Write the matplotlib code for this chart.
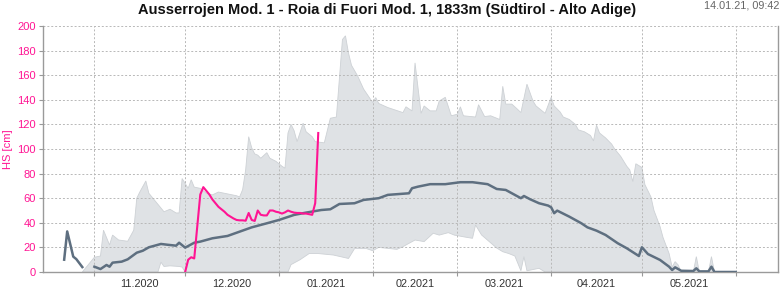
import numpy as np
import pandas as pd
import matplotlib
matplotlib.use("Agg")
import matplotlib.pyplot as plt
import matplotlib.dates as mdates
from matplotlib.ticker import FixedLocator, NullFormatter, FixedFormatter

plt.rcParams['font.family'] = ['Liberation Sans', 'DejaVu Sans']

# ---------------- data ----------------
title = "Ausserrojen Mod. 1 - Roia di Fuori Mod. 1, 1833m (Südtirol - Alto Adige)"
timestamp = "14.01.21, 09:42"
y_label = "HS [cm]"
x_tick_labels = ["11.2020", "12.2020", "01.2021", "02.2021", "03.2021", "04.2021", "05.2021"]
y_ticks = [0, 20, 40, 60, 80, 100, 120, 140, 160, 180, 200]

# mean snow depth (climatology)
mean_dates = ["2020-10-22", "2020-10-23", "2020-10-25", "2020-10-26", "2020-10-28", "2020-10-30",
              "2020-11-01", "2020-11-03", "2020-11-05", "2020-11-06", "2020-11-07", "2020-11-10",
              "2020-11-12", "2020-11-15", "2020-11-17", "2020-11-19", "2020-11-23", "2020-11-25",
              "2020-11-28", "2020-11-29", "2020-12-01", "2020-12-04", "2020-12-06", "2020-12-10",
              "2020-12-15", "2020-12-19", "2020-12-23", "2020-12-28", "2021-01-01", "2021-01-06",
              "2021-01-10", "2021-01-15", "2021-01-18", "2021-01-21", "2021-01-26", "2021-01-29",
              "2021-02-03", "2021-02-06", "2021-02-13", "2021-02-14", "2021-02-16", "2021-02-20",
              "2021-02-25", "2021-03-02", "2021-03-06", "2021-03-11", "2021-03-14", "2021-03-17",
              "2021-03-22", "2021-03-23", "2021-03-25", "2021-03-28", "2021-03-31", "2021-04-01",
              "2021-04-02", "2021-04-03", "2021-04-07", "2021-04-11", "2021-04-13", "2021-04-16",
              "2021-04-19", "2021-04-23", "2021-04-26", "2021-04-30", "2021-05-01", "2021-05-03",
              "2021-05-07", "2021-05-10", "2021-05-11", "2021-05-12", "2021-05-14", "2021-05-18",
              "2021-05-19", "2021-05-20", "2021-05-23", "2021-05-24", "2021-05-25", "2021-06-01"]
mean_hs = [10, 33, 12.5, 10.5, 4, np.nan,
           4.3, 2.4, 5.7, 4.3, 7.6, 8.4,
           10.3, 15.7, 17.3, 20.1, 22.8, 22.2,
           21.4, 23.8, 19.8, 23.8, 24.7, 27.4,
           29.3, 32.8, 36.3, 39.6, 42.3, 46.4,
           48.3, 50.4, 51, 55.3, 55.9, 58.6,
           60, 62.7, 64, 68.1, 69.4, 71.4,
           71.4, 73, 73, 71.4, 67.5, 66.7,
           60, 61.8, 59.2, 55.9, 54, 52.6,
           47.8, 49.9, 45, 39.6, 36.3, 33.6,
           30.1, 23.4, 19.3, 13, 20.1, 14.6,
           9.8, 4.3, 1.6, 3.8, 1, 0.8,
           3, 0.5, 0.5, 4.3, 0, 0]

# min / max envelope
upper_dates = ["2020-10-28", "2020-10-29", "2020-11-01", "2020-11-03", "2020-11-04", "2020-11-06",
               "2020-11-07", "2020-11-09", "2020-11-12", "2020-11-14", "2020-11-15", "2020-11-16",
               "2020-11-18", "2020-11-19", "2020-11-22", "2020-11-24", "2020-11-26", "2020-11-28",
               "2020-11-29", "2020-11-30", "2020-12-01", "2020-12-02", "2020-12-03", "2020-12-04",
               "2020-12-06", "2020-12-08", "2020-12-10", "2020-12-12", "2020-12-14", "2020-12-16",
               "2020-12-18", "2020-12-19", "2020-12-20", "2020-12-21", "2020-12-22", "2020-12-23",
               "2020-12-24", "2020-12-25", "2020-12-26", "2020-12-28", "2020-12-29", "2020-12-31",
               "2021-01-02", "2021-01-03", "2021-01-04", "2021-01-05", "2021-01-06", "2021-01-07",
               "2021-01-09", "2021-01-10", "2021-01-12", "2021-01-13", "2021-01-16",
               "2021-01-18", "2021-01-20", "2021-01-22", "2021-01-23", "2021-01-24", "2021-01-25",
               "2021-01-27", "2021-01-29", "2021-02-01", "2021-02-02", "2021-02-03", "2021-02-06",
               "2021-02-11", "2021-02-12", "2021-02-14", "2021-02-15", "2021-02-17", "2021-02-18",
               "2021-02-20", "2021-02-22", "2021-02-23", "2021-02-25", "2021-02-27", "2021-03-01",
               "2021-03-02", "2021-03-03", "2021-03-07", "2021-03-08", "2021-03-10", "2021-03-12",
               "2021-03-15", "2021-03-16", "2021-03-17", "2021-03-19", "2021-03-21", "2021-03-22",
               "2021-03-24", "2021-03-26", "2021-03-27", "2021-03-29", "2021-03-30", "2021-04-01",
               "2021-04-02", "2021-04-04", "2021-04-05", "2021-04-07", "2021-04-09", "2021-04-10",
               "2021-04-12", "2021-04-14", "2021-04-15", "2021-04-16", "2021-04-17", "2021-04-19",
               "2021-04-21", "2021-04-22", "2021-04-24", "2021-04-26", "2021-04-27", "2021-04-28",
               "2021-04-29", "2021-05-01", "2021-05-02", "2021-05-04", "2021-05-05", "2021-05-07",
               "2021-05-08", "2021-05-10", "2021-05-11", "2021-05-12", "2021-05-13", "2021-05-14",
               "2021-05-18", "2021-05-19", "2021-05-20", "2021-05-23", "2021-05-24", "2021-05-25",
               "2021-06-01"]
upper_hs = [0, 3, 12, 13, 34, 22,
            30, 26, 25, 34, 60, 65,
            74, 64, 55, 49, 51, 48,
            48, 76, 72, 68, 75, 69,
            68, 64, 62.7, 65, 64, 63,
            62, 61, 67, 83, 110, 101,
            96, 95, 92.5, 97, 92.5, 90,
            86, 84.4, 113, 120, 115, 106,
            121, 114, 110, 106, 105,
            125, 126, 189, 192, 178, 168,
            159.5, 148.7, 137.8, 141.8, 137, 133.7,
            129.6, 134.3, 131, 170, 129, 135,
            131, 131, 139, 142, 127, 128.3,
            134.3, 127, 126, 136, 126.4, 127,
            124, 151, 136.5, 136.5, 132, 129.6,
            152.7, 139, 135, 131, 129, 142,
            135, 130, 126, 124, 120, 115.5,
            114, 111, 106.6, 119.4, 113, 109,
            104, 100, 94, 86, 83, 73.5,
            88, 85, 71, 61, 50, 37,
            28, 15, 4, 8.4, 5.7, 0,
            0, 12.5, 0, 0, 12.5, 0,
            0]
lower_dates = ["2020-10-28", "2020-11-22", "2020-11-23", "2020-11-24", "2020-11-26", "2020-11-29",
               "2020-11-30", "2020-12-01", "2021-01-04", "2021-01-05", "2021-01-08", "2021-01-11",
               "2021-01-14", "2021-01-19", "2021-01-24", "2021-01-26", "2021-01-30", "2021-02-01",
               "2021-02-03", "2021-02-09", "2021-02-11", "2021-02-15", "2021-02-18", "2021-02-21",
               "2021-02-23", "2021-02-26", "2021-02-28", "2021-03-04", "2021-03-06", "2021-03-07",
               "2021-03-09", "2021-03-14", "2021-03-16", "2021-03-18", "2021-03-20", "2021-03-22",
               "2021-03-23", "2021-03-24", "2021-03-28", "2021-03-30", "2021-06-01"]
lower_hs = [0, 0, 8, 4.5, 5, 4.5,
            4, 0, 0, 6, 10, 15,
            15, 13.8, 11, 19, 19, 17.3,
            20, 18.4, 20.6, 26, 24.7, 31.5,
            30, 32, 30, 28.2, 27.4, 38.2,
            30.1, 19.5, 16.5, 15, 13, 1,
            12.5, 1, 3, 0, 0]

# current season, daily values from 2020-12-01
current_start = "2020-12-01"
current_hs = [0, 10, 12, 11, 37, 63, 69, 66, 63, 59,
              56, 53, 51, 49, 46.5, 45, 43.5, 42.3, 42, 42,
              41.7, 48, 42.3, 41.5, 50, 46.5, 46, 46, 50, 50,
              49, 48.5, 47.5, 48.5, 50, 49, 48.3, 48, 48, 47.5,
              47.5, 47, 46.5, 56, 113]

x_start, x_end = "2020-10-15", "2021-06-15"

# ---------------- plot ----------------
PINK = "#ff1493"
fig = plt.figure(figsize=(7.82, 2.94), dpi=100)
ax = fig.add_axes([43 / 782, 1 - 272 / 294, (778 - 43) / 782, (272 - 26) / 294])

ud = pd.to_datetime(upper_dates)
ld = pd.to_datetime(lower_dates)
poly_x = np.concatenate([mdates.date2num(ud), mdates.date2num(ld)[::-1]])
poly_y = np.concatenate([np.array(upper_hs, float), np.array(lower_hs, float)[::-1]])
ax.fill(poly_x, poly_y, facecolor="#dfe2e5", edgecolor="#cdd1d5", linewidth=0.6, zorder=1)

ax.plot(mdates.date2num(pd.to_datetime(mean_dates)), mean_hs, color="#5e6f80",
        linewidth=1.8, zorder=3, solid_joinstyle="round")

cd = pd.date_range(current_start, periods=len(current_hs), freq="D")
ax.plot(mdates.date2num(cd), current_hs, color=PINK, linewidth=1.5, zorder=4,
        solid_joinstyle="round")

x0 = mdates.date2num(pd.Timestamp(x_start))
x1 = mdates.date2num(pd.Timestamp(x_end))
ax.set_xlim(x0, x1)
ax.set_ylim(0, 200)

# month-start gridlines, mid-month labels
month_starts = pd.date_range("2020-11-01", "2021-06-01", freq="MS")
ms_num = mdates.date2num(month_starts)
ax.xaxis.set_major_locator(FixedLocator(ms_num))
ax.xaxis.set_major_formatter(NullFormatter())
mids = [(ms_num[i] + ms_num[i + 1]) / 2 for i in range(len(x_tick_labels))]
ax.xaxis.set_minor_locator(FixedLocator(mids))
ax.xaxis.set_minor_formatter(FixedFormatter(x_tick_labels))
ax.tick_params(axis="x", which="major", length=3, color="#999999", direction="out")
ax.tick_params(axis="x", which="minor", length=0, labelsize=7.8, labelcolor="#333333", pad=5)

ax.set_yticks(y_ticks)
ax.tick_params(axis="y", length=3, color="#999999", labelsize=8, labelcolor=PINK, pad=2)

ax.grid(True, which="major", color="#b8b8b8", linestyle=(0, (2, 2)), linewidth=0.7)

for s in ["left", "bottom", "right"]:
    ax.spines[s].set_color("#9a9a9a")
    ax.spines[s].set_linewidth(1.0)
ax.spines["top"].set_visible(False)

fig.text(8 / 782, 1 - 149 / 294, y_label, rotation=90, color=PINK, fontsize=8,
         ha="center", va="center")
fig.text(387 / 782, 1 - 10 / 294, title, fontsize=10.5, fontweight="bold",
         ha="center", va="center", color="#111111")
fig.text(779 / 782, 1 - 5.5 / 294, timestamp, fontsize=7.8, color="#666666",
         ha="right", va="center")

fig.savefig("out.png", dpi=100)
